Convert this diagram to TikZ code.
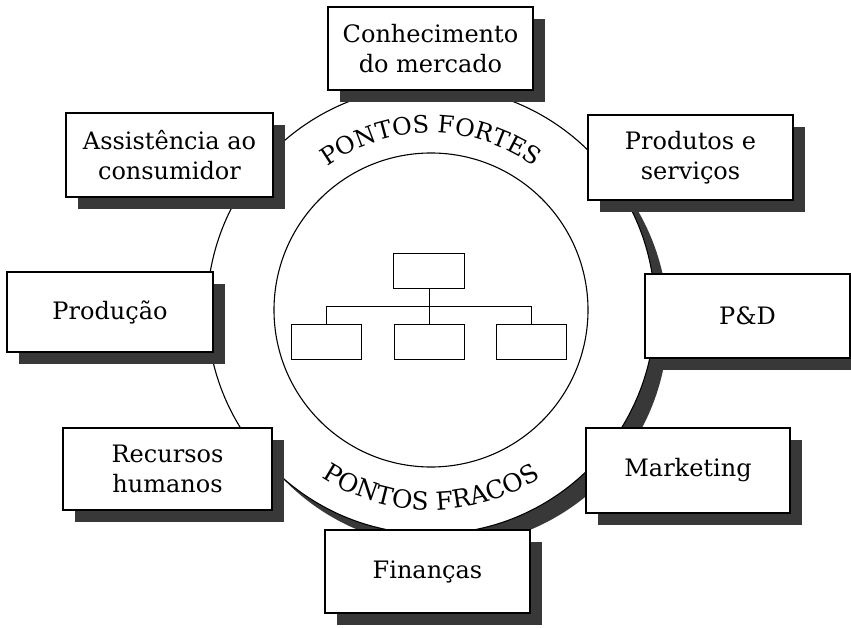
\documentclass[tikz,border=0pt]{standalone}
\usepackage{fontspec}
\setmainfont{DejaVu Serif}
\usetikzlibrary{shadows,decorations.text}
\tikzset{
  sbox/.style={draw=black, line width=1.1pt, fill=white, rectangle, inner sep=0pt,
    align=center, font=\fontsize{24}{30}\selectfont,
    drop shadow={shadow xshift=12pt, shadow yshift=-12pt, fill=black!78, opacity=1}},
  cbox/.style={draw=black, line width=1pt, fill=white, rectangle, inner sep=0pt,
    minimum width=70pt, minimum height=35pt},
  cline/.style={draw=black, line width=1pt}
}
\begin{document}
\begin{tikzpicture}[x=1pt,y=1pt]
\useasboundingbox (0,0) rectangle (851,627);
\coordinate (C) at (431,317);
\coordinate (CS) at (444,304);
% ring shadow and ring
\fill[black!78] (CS) circle[radius=224];
\filldraw[fill=white, draw=black, line width=1.1pt] (C) circle[radius=224];
\draw[line width=1.1pt] (C) circle[radius=157];
% arc texts
\path[decorate, decoration={text along path, text align=center,
  text={|\fontsize{24}{24}\selectfont|PONTOS FORTES}}]
  (C) ++(155:177) arc[start angle=155, end angle=25, radius=177];
\path[decorate, decoration={text along path, text align=center,
  text={|\fontsize{25}{25}\selectfont|PONTOS FRACOS}}]
  (C) ++(200:200) arc[start angle=200, end angle=340, radius=200];
% org chart
\node[cbox, minimum width=71pt] (top) at (429,355.5) {};
\node[cbox] (lb) at (326,284.5) {};
\node[cbox] (mb) at (429,284.5) {};
\node[cbox] (rb) at (531.5,284.5) {};
\draw[cline] (top.south) -- (mb.north);
\draw[cline] (lb.north) -- ++(0,18) -| (rb.north);
% boxes
\node[sbox, minimum width=205pt, minimum height=83pt] (mercado) at (430.5,578.5) {Conhecimento\\do mercado};
\node[sbox, minimum width=207pt, minimum height=84pt] (assist) at (169.5,472) {Assistência ao\\consumidor};
\node[sbox, minimum width=205pt, minimum height=85pt] (prod) at (690.5,469.5) {Produtos e\\serviços};
\node[sbox, minimum width=206pt, minimum height=80pt] (producao) at (110,315) {Produção};
\node[sbox, minimum width=205pt, minimum height=84pt] (pd) at (747.5,311) {P\&D};
\node[sbox, minimum width=209pt, minimum height=82pt] (rh) at (167.5,158) {Recursos\\humanos};
\node[sbox, minimum width=204pt, minimum height=85pt] (mkt) at (688,156.5) {Marketing};
\node[sbox, minimum width=205pt, minimum height=83pt] (fin) at (427.5,55.5) {Finanças};
\end{tikzpicture}
\end{document}
